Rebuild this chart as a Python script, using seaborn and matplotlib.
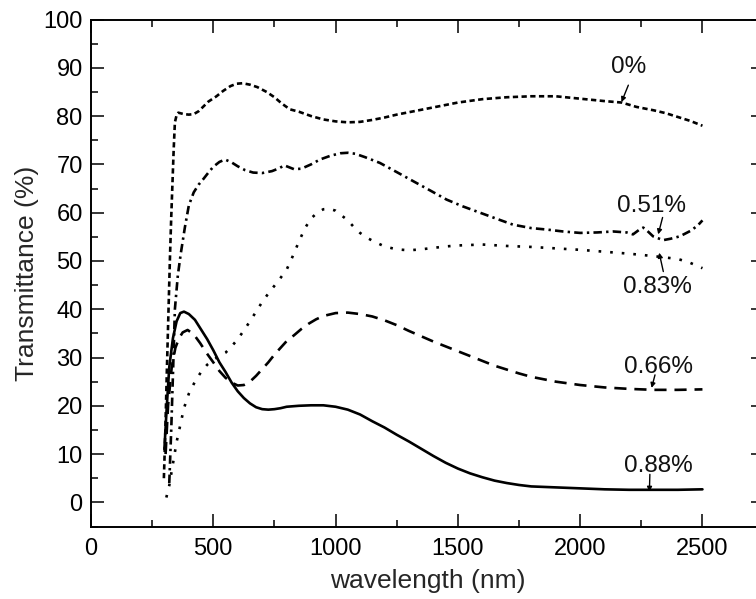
import matplotlib
matplotlib.use("Agg")
import matplotlib.pyplot as plt
import seaborn as sns
from matplotlib.ticker import MultipleLocator

# ---------------- data ----------------
wl_0 = [298, 304, 310, 317, 323, 328, 333, 338, 343, 350, 357, 380, 400, 420, 440, 460, 480, 513, 540,
        570, 595, 620, 650, 680, 718, 750, 780, 813, 850, 900, 950, 1000, 1050, 1100, 1150, 1200,
        1250, 1300, 1400, 1500, 1600, 1700, 1800, 1900, 2000, 2100, 2170, 2230, 2300, 2350, 2400,
        2450, 2500]
t_0 = [5, 15, 27, 40, 51, 59, 66, 73, 78.7, 80.2, 80.7, 80.4, 80.3, 80.4, 81.0, 82.0, 83.0, 84.1, 85.2,
       86.2, 86.7, 86.8, 86.5, 86.0, 85.0, 83.9, 82.6, 81.4, 80.9, 80.0, 79.3, 78.9, 78.7, 78.8, 79.2,
       79.7, 80.3, 80.8, 81.8, 82.8, 83.5, 83.9, 84.1, 84.1, 83.6, 83.1, 82.8, 81.9, 81.2, 80.6, 79.8,
       79.0, 78.0]

wl_051 = [320, 328, 336, 343, 355, 367, 384, 400, 420, 440, 460, 480, 500, 525, 548, 575, 600, 630,
          663, 700, 740, 770, 790, 805, 830, 860, 900, 936, 980, 1020, 1050, 1080, 1120, 1181, 1250,
          1318, 1390, 1454, 1520, 1590, 1660, 1726, 1800, 1863, 1930, 2000, 2070, 2135, 2190, 2216,
          2240, 2258, 2275, 2298, 2339, 2370, 2408, 2450, 2480, 2500]
t_051 = [4, 15, 28, 40, 47, 51.5, 57, 61.5, 64.2, 65.8, 67.0, 68.3, 69.5, 70.5, 71.0, 70.4, 69.6, 68.8,
         68.3, 68.2, 68.6, 69.2, 69.8, 69.5, 69.0, 69.1, 70.0, 71.0, 71.8, 72.3, 72.4, 72.2, 71.5, 70.3,
         68.4, 66.5, 64.5, 62.7, 61.3, 60.0, 58.7, 57.5, 56.8, 56.5, 56.1, 55.8, 55.9, 56.1, 55.9, 55.5,
         56.4, 56.9, 56.2, 55.1, 54.3, 54.6, 55.1, 56.2, 57.3, 58.4]

wl_083 = [308, 320, 335, 350, 365, 380, 400, 425, 450, 475, 500, 525, 550, 575, 600, 625, 650, 675, 700,
          730, 765, 800, 825, 850, 875, 900, 925, 950, 975, 1000, 1025, 1050, 1075, 1100, 1125, 1150,
          1200, 1250, 1300, 1350, 1400, 1450, 1500, 1600, 1700, 1800, 1900, 2000, 2100, 2200, 2300,
          2400, 2450, 2500]
t_083 = [1, 3.5, 8, 12.5, 16, 19.5, 22.5, 25, 27, 28.5, 29.5, 30.3, 31.0, 32.3, 33.8, 35.6, 37.5, 39.5,
         41.5, 43.6, 45.8, 48.2, 51.0, 54.0, 56.8, 58.8, 60.0, 60.7, 60.8, 60.4, 59.4, 58.4, 57.0, 55.8,
         54.9, 54.2, 53.0, 52.4, 52.2, 52.4, 52.7, 53.0, 53.2, 53.4, 53.1, 52.9, 52.6, 52.3, 51.9, 51.5,
         51.0, 50.4, 49.6, 48.5]

wl_066 = [305, 315, 330, 345, 360, 375, 395, 420, 446, 473, 500, 525, 550, 575, 600, 625, 650, 675, 700,
          725, 750, 775, 800, 830, 860, 890, 920, 950, 1000, 1050, 1100, 1150, 1200, 1250, 1300, 1350,
          1400, 1450, 1500, 1550, 1600, 1650, 1700, 1750, 1800, 1850, 1900, 2000, 2100, 2200, 2300,
          2400, 2500]
t_066 = [10, 20, 28, 32, 34, 35.2, 35.7, 34.8, 33.0, 30.9, 29.0, 27.2, 25.8, 24.8, 24.2, 24.3, 25.0, 26.2,
         27.6, 29.0, 30.6, 32.0, 33.4, 34.6, 35.9, 37.0, 37.9, 38.6, 39.2, 39.3, 39.0, 38.5, 37.7, 36.7,
         35.5, 34.4, 33.3, 32.3, 31.3, 30.3, 29.3, 28.3, 27.5, 26.7, 26.0, 25.5, 25.0, 24.3, 23.8, 23.5,
         23.3, 23.3, 23.4]

wl_088 = [300, 310, 320, 335, 350, 365, 380, 400, 425, 450, 475, 500, 525, 550, 575, 600, 625, 650, 675,
          700, 725, 750, 775, 800, 850, 900, 950, 1000, 1050, 1100, 1150, 1200, 1250, 1300, 1350, 1400,
          1450, 1500, 1550, 1600, 1650, 1700, 1750, 1800, 1900, 2000, 2100, 2200, 2300, 2400, 2500]
t_088 = [11, 20, 28, 34, 37.5, 39.2, 39.5, 39.0, 37.8, 35.8, 33.8, 31.5, 29.0, 27.0, 24.8, 23.0, 21.6,
         20.5, 19.7, 19.3, 19.2, 19.3, 19.5, 19.8, 20.0, 20.1, 20.1, 19.8, 19.2, 18.2, 16.8, 15.5, 14.0,
         12.6, 11.1, 9.6, 8.2, 7.0, 6.0, 5.2, 4.5, 4.0, 3.6, 3.3, 3.1, 2.9, 2.7, 2.6, 2.6, 2.6, 2.7]

labels = ["0%", "0.51%", "0.83%", "0.66%", "0.88%"]
label_pos = [(2200, 90.2), (2293, 61.4), (2314, 44.7), (2319, 28.0), (2319, 7.6)]
arrow_from = [(2197, 86.4), (2337, 59.0), (2340, 47.8), (2306, 26.4), (2285, 5.8)]
arrow_to = [(2169, 82.9), (2319, 55.5), (2323, 51.7), (2292, 23.7), (2283, 2.2)]

xticks = [0, 500, 1000, 1500, 2000, 2500]
yticks = [0, 10, 20, 30, 40, 50, 60, 70, 80, 90, 100]

# ---------------- styling ----------------
sns.set_style("ticks")
plt.rcParams["font.family"] = ["Liberation Sans", "DejaVu Sans"]

fig = plt.figure(figsize=(7.56, 5.99), dpi=100)
W, H = 756, 599
ax = fig.add_axes([91 / W, 1 - 526.5 / H, 672.6 / W, 507 / H])

lw = 1.9
series = [
    (wl_0, t_0, (0, (2.0, 1.3))),
    (wl_051, t_051, (0, (3.2, 1.6, 0.9, 1.6))),
    (wl_083, t_083, (0, (1.0, 3.4))),
    (wl_066, t_066, (0, (4.6, 3.0))),
    (wl_088, t_088, "-"),
]
for x, y, ls in series:
    sns.lineplot(x=x, y=y, ax=ax, color="black", lw=lw, linestyle=ls,
                 estimator=None, sort=False)

for lab, (tx, ty), p0, p1 in zip(labels, label_pos, arrow_from, arrow_to):
    ax.text(tx, ty, lab, ha="center", va="center", fontsize=17.5, color="#111111")
    ax.annotate("", xy=p1, xytext=p0,
                arrowprops=dict(arrowstyle="-|>", lw=1.0, color="black",
                                mutation_scale=7, shrinkA=0, shrinkB=0))

ax.set_xlim(0, 2750)
ax.set_ylim(-5, 100)
ax.set_xticks(xticks)
ax.set_yticks(yticks)
ax.xaxis.set_minor_locator(MultipleLocator(250))
ax.yaxis.set_minor_locator(MultipleLocator(5))

ax.tick_params(which="both", direction="in", top=True, right=True, colors="black",
               width=1.1, labelsize=17)
ax.tick_params(which="major", length=9.5)
ax.tick_params(which="minor", length=5)
ax.tick_params(axis="x", which="major", pad=8)
ax.tick_params(axis="y", which="major", pad=6)
for s in ax.spines.values():
    s.set_linewidth(1.4)
    s.set_color("black")

ax.set_xlabel("wavelength (nm)", fontsize=19, labelpad=7)
ax.set_ylabel("Transmittance (%)", fontsize=19, labelpad=3)

fig.savefig("out.png", dpi=100)
